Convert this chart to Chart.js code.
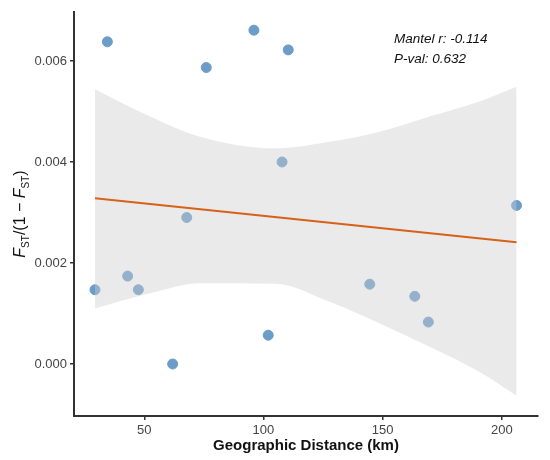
<!DOCTYPE html>
<html>
<head>
<meta charset="utf-8">
<script src="https://cdn.jsdelivr.net/npm/chart.js@4.4.1/dist/chart.umd.min.js"></script>
<style>
  html, body { margin: 0; padding: 0; background: #fff; }
  #wrap { width: 550px; height: 460px; }
</style>
</head>
<body>
<div id="wrap"><canvas id="mantelChart"></canvas></div>
<script>
// Puntos observados (distancia geográfica vs FST/(1-FST))
const distKm = [34.5, 96, 76, 110.4, 67.8, 107.8, 206.2, 29.3, 43, 47.5, 61.9, 102, 144.6, 163.5, 169.2];
const fstVals = [0.00638, 0.00661, 0.00587, 0.00622, 0.0029, 0.0040, 0.00314, 0.00147, 0.00174, 0.00147, 0.0, 0.00057, 0.00158, 0.00134, 0.00083];

// Recta de regresión (extremos)
const fitX = [29.3, 206.2];
const fitY = [0.00328, 0.00241];

// Banda de confianza
const bandX = [29.3, 52.4, 73.4, 104.8, 127.8, 148.8, 169.7, 190.7, 206.2];
const bandUpper = [0.00544, 0.00490, 0.00450, 0.00427, 0.00440, 0.00460, 0.00490, 0.00520, 0.00549];
const bandLower = [0.00110, 0.00140, 0.00160, 0.00159, 0.00123, 0.00080, 0.00034, -0.00016, -0.00063];

// Marcas de los ejes
const xTicks = [50, 100, 150, 200];
const yTicks = [0, 0.002, 0.004, 0.006];

const statLines = ['Mantel r: -0.114', 'P-val: 0.632'];

const toXY = (xs, ys) => xs.map((x, i) => ({ x: x, y: ys[i] }));

// Título del eje Y con subíndices y anotación
const extraText = {
    id: 'extraText',
    afterDraw(chart) {
        const ctx = chart.ctx;
        const area = chart.chartArea;
        ctx.save();
        ctx.fillStyle = '#111';
        ctx.textBaseline = 'alphabetic';
        ctx.textAlign = 'left';
        ctx.font = 'italic 13.5px "Liberation Sans", Arial, sans-serif';
        statLines.forEach((t, i) => {
            ctx.fillText(t, 394, 43 + i * 20);
        });

        const big = '16px "Liberation Sans", Arial, sans-serif';
        const bigIt = 'italic 16px "Liberation Sans", Arial, sans-serif';
        const small = '10px "Liberation Sans", Arial, sans-serif';
        const parts = [
            { t: 'F', f: bigIt, dy: 0 },
            { t: 'ST', f: small, dy: 4 },
            { t: '/(1 \u2212 ', f: big, dy: 0 },
            { t: 'F', f: bigIt, dy: 0 },
            { t: 'ST', f: small, dy: 4 },
            { t: ')', f: big, dy: 0 }
        ];
        let total = 0;
        parts.forEach(p => { ctx.font = p.f; p.w = ctx.measureText(p.t).width; total += p.w; });
        ctx.translate(19, (area.top + area.bottom) / 2);
        ctx.rotate(-Math.PI / 2);
        let xPos = -total / 2;
        parts.forEach(p => {
            ctx.font = p.f;
            ctx.fillText(p.t, xPos, 6 + p.dy);
            xPos += p.w;
        });
        ctx.restore();
    }
};

document.addEventListener('DOMContentLoaded', function() {
    const ctx = document.getElementById('mantelChart').getContext('2d');
    new Chart(ctx, {
        type: 'scatter',
        data: {
            datasets: [
                {
                    label: 'Ajuste',
                    data: toXY(fitX, fitY),
                    showLine: true,
                    borderColor: 'rgb(214, 98, 26)',
                    borderWidth: 2,
                    pointRadius: 0,
                    order: 0
                },
                {
                    label: 'Superior',
                    data: toXY(bandX, bandUpper),
                    showLine: true,
                    borderWidth: 0,
                    borderColor: 'rgba(0,0,0,0)',
                    backgroundColor: 'rgba(205, 205, 205, 0.42)',
                    pointRadius: 0,
                    tension: 0.4,
                    cubicInterpolationMode: 'monotone',
                    fill: '+1',
                    order: 1
                },
                {
                    label: 'Inferior',
                    data: toXY(bandX, bandLower),
                    showLine: true,
                    borderWidth: 0,
                    borderColor: 'rgba(0,0,0,0)',
                    pointRadius: 0,
                    tension: 0.4,
                    cubicInterpolationMode: 'monotone',
                    fill: false,
                    order: 1
                },
                {
                    label: 'Poblaciones',
                    data: toXY(distKm, fstVals),
                    backgroundColor: 'rgb(108, 156, 200)',
                    borderColor: 'rgb(108, 156, 200)',
                    pointRadius: 5,
                    order: 2
                }
            ]
        },
        options: {
            responsive: true,
            maintainAspectRatio: false,
            animation: false,
            layout: { padding: { left: 0, top: 12, right: 12, bottom: 0 } },
            plugins: {
                legend: { display: false },
                tooltip: { enabled: false }
            },
            scales: {
                x: {
                    type: 'linear',
                    min: 20.5,
                    max: 215.2,
                    afterBuildTicks: s => { s.ticks = xTicks.map(v => ({ value: v })); },
                    afterFit: s => { s.height = 44; },
                    grid: { drawOnChartArea: false, drawTicks: true, tickLength: 4, color: '#333', lineWidth: 1.5 },
                    border: { display: true, color: '#333', width: 2 },
                    ticks: {
                        color: '#444',
                        padding: 3,
                        font: { size: 13, family: '"Liberation Sans", Arial, sans-serif' }
                    },
                    title: {
                        display: true,
                        text: 'Geographic Distance (km)',
                        color: '#111',
                        padding: { top: 0, bottom: 5 },
                        font: { size: 15, weight: 'bold', family: '"Liberation Sans", Arial, sans-serif' }
                    }
                },
                y: {
                    min: -0.00103,
                    max: 0.00697,
                    afterBuildTicks: s => { s.ticks = yTicks.map(v => ({ value: v })); },
                    afterFit: s => { s.width = 74; },
                    grid: { drawOnChartArea: false, drawTicks: true, tickLength: 4, color: '#333', lineWidth: 1.5 },
                    border: { display: true, color: '#333', width: 2 },
                    ticks: {
                        color: '#444',
                        padding: 3,
                        callback: v => v.toFixed(3),
                        font: { size: 13, family: '"Liberation Sans", Arial, sans-serif' }
                    }
                }
            }
        },
        plugins: [extraText]
    });
});
</script>
</body>
</html>
